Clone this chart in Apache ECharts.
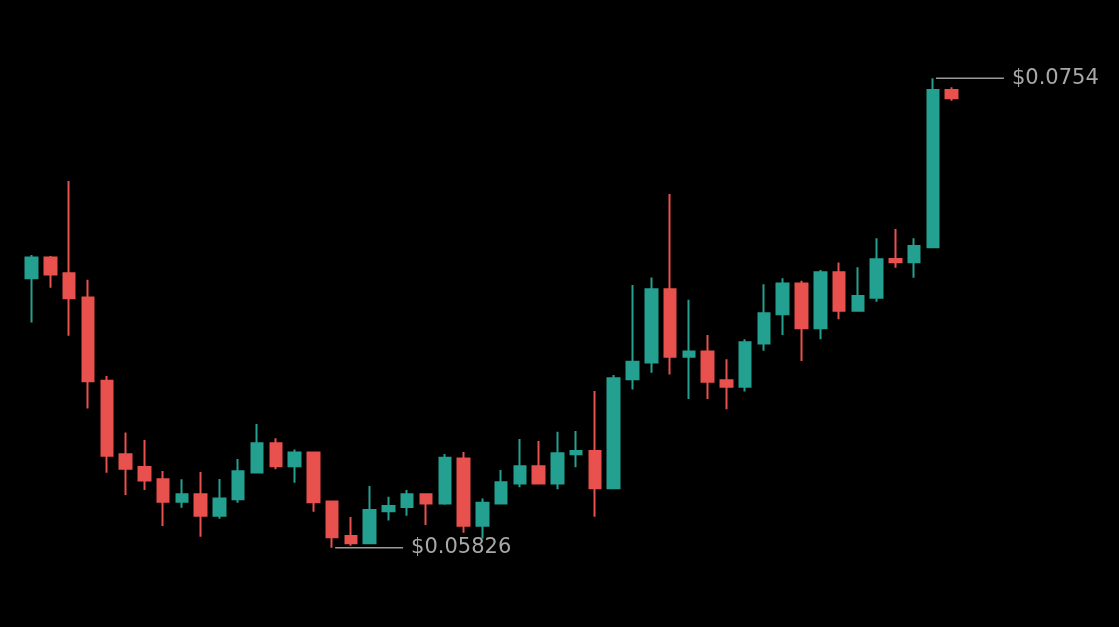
<!DOCTYPE html>
<html>
<head>
<meta charset="utf-8">
<script src="https://cdn.jsdelivr.net/npm/echarts@6/dist/echarts.min.js"></script>
<style>
html,body{margin:0;padding:0;background:#000;}
#chart{width:1119px;height:627px;}
</style>
</head>
<body>
<div id="chart"></div>
<script>
// candle index labels
const categories = Array.from({length: 50}, (_, i) => 'D' + (i + 1));
const opens  = [0.06810,0.06886,0.06828,0.06740,0.06436,0.06167,0.06121,0.06076,0.05994,0.06021,
                0.05943,0.06003,0.06101,0.06207,0.06123,0.06174,0.05995,0.05869,0.05842,0.05959,
                0.05975,0.06021,0.05987,0.06152,0.05906,0.05987,0.06060,0.06123,0.06060,0.06167,
                0.06179,0.06043,0.06441,0.06502,0.06770,0.06523,0.06542,0.06437,0.06414,0.06572,
                0.06678,0.06791,0.06627,0.06832,0.06691,0.06739,0.06880,0.06868,0.06923,0.07497];
const closes = [0.06886,0.06824,0.06737,0.06434,0.06162,0.06114,0.06071,0.05994,0.06021,0.05943,
                0.06006,0.06105,0.06207,0.06123,0.06174,0.05992,0.05864,0.05842,0.05964,0.05978,
                0.06021,0.05987,0.06154,0.05906,0.05990,0.06065,0.06123,0.06060,0.06171,0.06179,
                0.06043,0.06445,0.06505,0.06770,0.06523,0.06542,0.06432,0.06414,0.06576,0.06682,
                0.06791,0.06627,0.06832,0.06691,0.06745,0.06879,0.06868,0.06928,0.07497,0.07467];
const lows   = [0.06648,0.06775,0.06600,0.06334,0.06100,0.06018,0.06037,0.05905,0.05972,0.05866,
                0.05932,0.05990,0.06098,0.06112,0.06063,0.05957,0.05826,0.05833,0.05840,0.05925,
                0.05943,0.05909,0.05983,0.05881,0.05860,0.05985,0.06047,0.06058,0.06039,0.06120,
                0.05939,0.06042,0.06404,0.06465,0.06458,0.06369,0.06369,0.06332,0.06396,0.06545,
                0.06603,0.06508,0.06587,0.06660,0.06688,0.06724,0.06848,0.06812,0.06922,0.07458];
const highs  = [0.06895,0.06891,0.07165,0.06804,0.06453,0.06247,0.06219,0.06106,0.06076,0.06102,
                0.06077,0.06150,0.06278,0.06226,0.06185,0.06176,0.05997,0.05938,0.06051,0.06012,
                0.06037,0.06022,0.06168,0.06175,0.06006,0.06110,0.06223,0.06216,0.06249,0.06252,
                0.06398,0.06457,0.06785,0.06813,0.07118,0.06731,0.06603,0.06514,0.06587,0.06788,
                0.06810,0.06801,0.06840,0.06867,0.06850,0.06956,0.06990,0.06956,0.07540,0.07507];
const maxLabel = '$0.0754';
const minLabel = '$0.05826';

const ohlc = opens.map((o, i) => [o, closes[i], lows[i], highs[i]]);
let maxIdx = 0, minIdx = 0;
highs.forEach((h, i) => { if (h > highs[maxIdx]) maxIdx = i; });
lows.forEach((l, i) => { if (l < lows[minIdx]) minIdx = i; });

const chart = echarts.init(document.getElementById('chart'));
const annoLabel = (txt) => ({
  show: true, position: 'right', distance: 8, formatter: txt,
  color: '#a8a8a8', fontSize: 21, fontFamily: 'DejaVu Sans'
});
chart.setOption({
  backgroundColor: '#000',
  animation: false,
  grid: {left: 22.3, right: 157.9, top: 34.5, bottom: 44.8},
  xAxis: {type: 'category', data: categories, show: false, boundaryGap: true},
  yAxis: {type: 'value', min: 0.0570, max: 0.0770, show: false, splitLine: {show: false}},
  series: [{
    type: 'candlestick',
    data: ohlc,
    barWidth: 12,
    itemStyle: {
      color: '#24a090', color0: '#e8514d',
      borderColor: '#24a090', borderColor0: '#e8514d', borderWidth: 2
    },
    markPoint: {
      silent: true,
      data: [
        {coord: [maxIdx, highs[maxIdx]], symbol: 'rect', symbolSize: [68, 1.5], symbolOffset: [37, 0],
         itemStyle: {color: '#9a9a9a'}, label: annoLabel(maxLabel)},
        {coord: [minIdx, lows[minIdx]], symbol: 'rect', symbolSize: [68, 1.5], symbolOffset: [37, 0],
         itemStyle: {color: '#9a9a9a'}, label: annoLabel(minLabel)}
      ]
    }
  }]
});
</script>
</body>
</html>
